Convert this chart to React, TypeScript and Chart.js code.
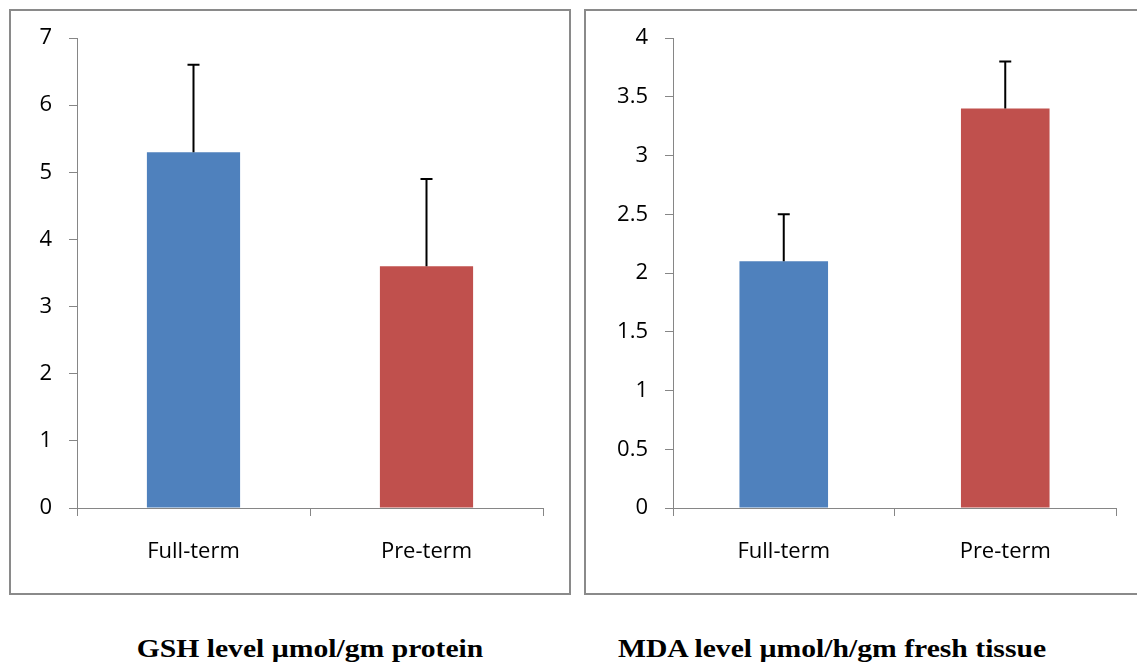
import React, { useEffect, useRef } from "react";
import { Chart, registerables } from "chart.js";

Chart.register(...registerables);

const categories = ["Full-term", "Pre-term"];
const gshMeans = [5.3, 3.6];
const gshErrors = [1.3, 1.3];
const mdaMeans = [2.1, 3.4];
const mdaErrors = [0.4, 0.4];
const barColors = ["#4f81bd", "#c0504d"];
const gshTitle = "GSH level µmol/gm protein";
const mdaTitle = "MDA level µmol/h/gm fresh tissue";

const errorBarPlugin = {
  id: "errorBars",
  afterDatasetsDraw(chart: any) {
    const ctx = chart.ctx;
    const yScale = chart.scales.y;
    chart.data.datasets.forEach((ds: any, di: number) => {
      const meta = chart.getDatasetMeta(di);
      meta.data.forEach((bar: any, i: number) => {
        const v = ds.data[i];
        const e = ds.errors[i];
        const yTop = yScale.getPixelForValue(v + e);
        const yBase = yScale.getPixelForValue(v);
        ctx.save();
        ctx.strokeStyle = "#000";
        ctx.lineWidth = 2;
        ctx.beginPath();
        ctx.moveTo(bar.x, yBase);
        ctx.lineTo(bar.x, yTop);
        ctx.moveTo(bar.x - 6, yTop);
        ctx.lineTo(bar.x + 6, yTop);
        ctx.stroke();
        ctx.restore();
      });
    });
  },
};

type PanelProps = {
  left: number;
  means: number[];
  errors: number[];
  yMax: number;
  step: number;
  yAxisWidth: number;
  padRight: number;
};

function BarPanel({ left, means, errors, yMax, step, yAxisWidth, padRight }: PanelProps) {
  const ref = useRef<HTMLCanvasElement | null>(null);
  useEffect(() => {
    if (!ref.current) return;
    const axisColor = "#868686";
    const font = { family: "'Open Sans'", size: 22 };
    const chart = new Chart(ref.current, {
      type: "bar",
      data: {
        labels: categories,
        datasets: [
          {
            data: means,
            errors: errors,
            backgroundColor: barColors,
            categoryPercentage: 1,
            barPercentage: 0.4,
          } as any,
        ],
      },
      options: {
        animation: false,
        responsive: false,
        layout: { padding: { top: 27, right: padRight, left: 0, bottom: 0 } },
        plugins: { legend: { display: false }, tooltip: { enabled: false } },
        scales: {
          x: {
            grid: {
              offset: true,
              drawOnChartArea: false,
              drawTicks: true,
              tickLength: 8,
              color: axisColor,
            },
            border: { color: axisColor, width: 1 },
            ticks: { font, color: "#000", padding: 23 },
            afterFit: (s: any) => {
              s.height = 85;
              s.paddingLeft = 0;
              s.paddingRight = 0;
            },
          },
          y: {
            min: 0,
            max: yMax,
            ticks: {
              stepSize: step,
              font,
              color: "#000",
              padding: 17,
              callback: (v: any) => `${v}`,
            },
            grid: {
              drawOnChartArea: false,
              tickLength: 8,
              color: axisColor,
            },
            border: { color: axisColor, width: 1 },
            afterFit: (s: any) => {
              s.width = yAxisWidth;
              s.paddingTop = 0;
              s.paddingBottom = 0;
            },
          },
        },
      },
      plugins: [errorBarPlugin],
    });
    return () => chart.destroy();
  }, []);
  return (
    <div
      style={{
        position: "absolute",
        left,
        top: 9,
        width: 558,
        height: 582,
        border: "2px solid #8a8a8a",
        background: "#fff",
      }}
    >
      <canvas ref={ref} width={558} height={582} style={{ display: "block" }} />
    </div>
  );
}

const titleStyle: React.CSSProperties = {
  position: "absolute",
  top: 636,
  fontFamily: "'Liberation Serif', 'Times New Roman', serif",
  fontWeight: "bold",
  fontSize: 26,
  lineHeight: 1,
  whiteSpace: "nowrap",
  transform: "translateX(-50%) scaleX(1.14)",
  color: "#000",
};

export default function App() {
  return (
    <div
      style={{
        position: "absolute",
        left: 0,
        top: 0,
        width: 1137,
        height: 664,
        overflow: "hidden",
        background: "#fff",
      }}
    >
      <BarPanel left={9} means={gshMeans} errors={gshErrors} yMax={7} step={1} yAxisWidth={66} padRight={26} />
      <BarPanel left={584} means={mdaMeans} errors={mdaErrors} yMax={4} step={0.5} yAxisWidth={87} padRight={28} />
      <div style={{ ...titleStyle, left: 310 }}>{gshTitle}</div>
      <div style={{ ...titleStyle, left: 832 }}>{mdaTitle}</div>
    </div>
  );
}
